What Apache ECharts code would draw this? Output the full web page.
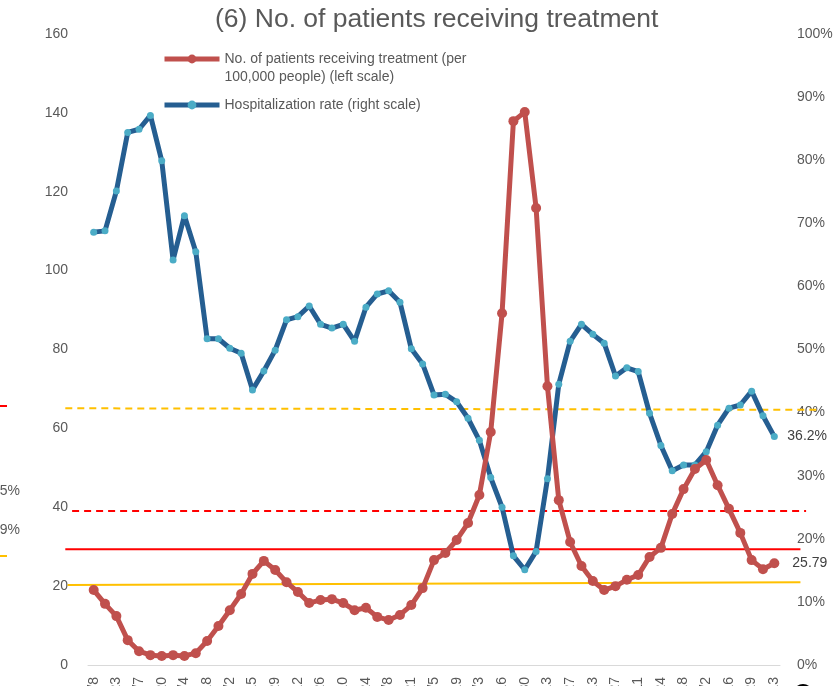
<!DOCTYPE html>
<html>
<head>
<meta charset="utf-8">
<script src="https://cdn.jsdelivr.net/npm/echarts@6/dist/echarts.min.js"></script>
<style>
  html, body { margin: 0; padding: 0; background: #fff; }
  #chart { width: 833px; height: 686px; }
</style>
</head>
<body>
<div id="chart"></div>
<script>
// weekly dates, only every other one is labelled
var weeks = ['2/8','2/15','2/23','3/1','3/7','3/14','3/20','3/27','4/4','4/11',
  '4/18','4/25','5/2','5/9','5/15','5/22','5/29','6/5','6/12','6/19',
  '6/26','7/3','7/10','7/17','7/24','7/31','8/8','8/14','8/21','8/28',
  '9/5','9/12','9/19','9/26','10/3','10/10','10/16','10/23','10/30','11/6',
  '11/13','11/20','11/27','12/4','12/13','12/20','12/27','1/3','1/11','1/18',
  '1/24','1/31','2/18','2/25','3/2','3/9','3/16','3/23','3/29','4/5','4/13'];

// patients receiving treatment per 100,000 people (left scale)
var patients = [19.0,15.5,12.4,6.3,3.5,2.5,2.3,2.5,2.3,3.0,
  6.1,9.9,13.9,18.0,23.1,26.4,24.1,21.0,18.5,15.7,
  16.5,16.7,15.7,13.9,14.5,12.2,11.4,12.7,15.2,19.5,
  26.6,28.4,31.7,36.0,43.1,59.1,89.2,137.9,140.2,115.9,
  70.7,41.8,31.2,25.1,21.3,19.0,20.0,21.6,22.8,27.4,
  29.7,38.3,44.6,49.7,52.0,45.6,39.6,33.5,26.6,24.3,25.79];

// hospitalization rate in % (right scale)
var hospRate = [68.6,68.8,75.1,84.4,84.9,87.1,79.9,64.2,71.2,65.5,
  51.7,51.7,50.2,49.4,43.6,46.6,49.9,54.7,55.2,56.9,
  54.0,53.4,54.0,51.3,56.7,58.8,59.3,57.5,50.1,47.7,
  42.8,42.9,41.7,39.1,35.6,29.7,25.0,17.3,15.1,18.0,
  29.5,44.5,51.3,54.0,52.4,51.0,45.8,47.1,46.5,39.9,
  34.8,30.8,31.7,31.7,33.8,38.0,40.7,41.2,43.4,39.5,36.2];

// threshold lines: [from week index, value] -> [to week index, value]
var orangeDashed = [[-2.5, 65.1], [64, 64.7]];
var redDashed = [[-1.9, 39.05], [62.8, 39.05]];
var redSolid = [[-2.5, 29.35], [62.3, 29.35]];
var orangeSolid = [[-2.3, 20.3], [62.3, 21.0]];

var leftTicks = { min: 0, max: 160, interval: 20 };
var rightTicks = { min: 0, max: 100, interval: 10 };

var nameRed = 'No. of patients receiving treatment (per 100,000 people) (left scale)';
var nameBlue = 'Hospitalization rate (right scale)';

var font = '"Liberation Sans", Arial, sans-serif';
var grey = '#595959';

var myChart = echarts.init(document.getElementById('chart'));

function refLine(data, color, type) {
  return {
    type: 'line',
    xAxisIndex: 1,
    yAxisIndex: 2,
    data: data,
    symbol: 'none',
    silent: true,
    z: 1,
    lineStyle: { color: color, width: 2, type: type }
  };
}

var option = {
  animation: false,
  backgroundColor: '#fff',
  textStyle: { fontFamily: font },
  title: {
    text: '(6) No. of patients receiving treatment',
    left: 210,
    top: 1,
    textStyle: { fontFamily: font, fontSize: 26.5, fontWeight: 'normal', color: grey }
  },
  legend: {
    orient: 'vertical',
    left: 157,
    top: 27,
    itemWidth: 55,
    itemHeight: 11,
    itemGap: 10,
    lineStyle: { width: 5 },
    textStyle: { fontFamily: font, fontSize: 14, color: grey, lineHeight: 18 },
    // blank first line keeps the icon level with the first text line
    formatter: function (n) {
      return n.indexOf(' 100,000') > 0 ? '\n' + n.replace(' 100,000', '\n100,000') : n;
    },
    data: [nameRed, nameBlue]
  },
  grid: [
    { left: 88, right: 53, top: 34, bottom: 21, containLabel: false, outerBoundsMode: 'none' },
    { left: 65.3, right: 13.3, top: 34, bottom: 21, containLabel: false, outerBoundsMode: 'none' }
  ],
  xAxis: [
    {
      type: 'category',
      data: weeks,
      gridIndex: 0,
      boundaryGap: true,
      axisLine: { lineStyle: { color: '#D9D9D9', width: 1 } },
      axisTick: { show: false },
      axisLabel: { interval: 1, rotate: 90, margin: 12, fontSize: 14, color: grey, fontFamily: font }
    },
    { type: 'value', gridIndex: 1, min: -2.5, max: 64, show: false }
  ],
  yAxis: [
    {
      type: 'value', gridIndex: 0,
      min: leftTicks.min, max: leftTicks.max, interval: leftTicks.interval,
      splitLine: { show: false },
      axisLine: { show: false },
      axisLabel: { fontSize: 14, color: grey, margin: 20, fontFamily: font }
    },
    {
      type: 'value', gridIndex: 0, position: 'right',
      min: rightTicks.min, max: rightTicks.max, interval: rightTicks.interval,
      splitLine: { show: false },
      axisLine: { show: false },
      axisLabel: { fontSize: 14, color: grey, margin: 17, fontFamily: font, formatter: '{value}%' }
    },
    { type: 'value', gridIndex: 1, min: leftTicks.min, max: leftTicks.max, show: false }
  ],
  series: [
    refLine(orangeDashed, '#FFC000', [7, 5]),
    refLine(redDashed, '#FF0000', [7, 5]),
    refLine(redSolid, '#FF0000', 'solid'),
    refLine(orangeSolid, '#FFC000', 'solid'),
    {
      name: nameBlue,
      type: 'line',
      yAxisIndex: 1,
      data: hospRate,
      symbol: 'circle',
      symbolSize: 7,
      showAllSymbol: true,
      z: 3,
      lineStyle: { color: '#255E91', width: 5 },
      itemStyle: { color: '#4BACC6' },
      endLabel: {
        show: true, distance: 13, fontSize: 14, color: '#404040', fontFamily: font,
        formatter: function (p) { return p.value + '%'; }
      }
    },
    {
      name: nameRed,
      type: 'line',
      data: patients,
      symbol: 'circle',
      symbolSize: 10,
      showAllSymbol: true,
      z: 4,
      lineStyle: { color: '#C0504D', width: 5 },
      itemStyle: { color: '#C0504D' },
      endLabel: {
        show: true, distance: 18, fontSize: 14, color: '#404040', fontFamily: font,
        formatter: function (p) { return String(p.value); }
      }
    }
  ],
  graphic: [
    // pieces of the neighbouring chart that the crop cut through
    { type: 'line', shape: { x1: 0, y1: 406, x2: 7, y2: 406 }, style: { stroke: '#FF0000', lineWidth: 2 } },
    { type: 'line', shape: { x1: 0, y1: 556, x2: 7, y2: 556 }, style: { stroke: '#FFC000', lineWidth: 2 } },
    { type: 'text', right: 813, top: 484, style: { text: '5%', fill: grey, font: '14px ' + font } },
    { type: 'text', right: 813, top: 523, style: { text: '9%', fill: grey, font: '14px ' + font } },
    { type: 'circle', shape: { cx: 803, cy: 694, r: 10 }, style: { fill: '#000' } }
  ]
};

if (option && typeof option === 'object') {
  myChart.setOption(option);
}
</script>
</body>
</html>
